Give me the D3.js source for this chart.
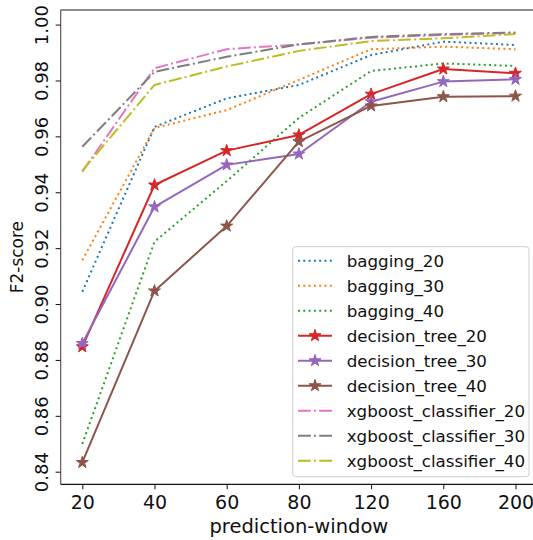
<!DOCTYPE html>
<html>
<head>
<meta charset="utf-8">
<script src="https://cdn.jsdelivr.net/npm/d3@7"></script>
<style>
  html, body { margin: 0; padding: 0; background: #fff; }
  svg { display: block; font-family: "DejaVu Sans", sans-serif; }
</style>
</head>
<body>
<svg id="chart" width="533" height="540"></svg>
<script>
const categories = ["20", "40", "60", "80", "120", "160", "200"];
const yTicks = [0.84, 0.86, 0.88, 0.90, 0.92, 0.94, 0.96, 0.98, 1.00];

const bagging_20 = [0.9044, 0.9634, 0.9736, 0.9784, 0.9891, 0.9939, 0.9927];
const bagging_30 = [0.9157, 0.9630, 0.9694, 0.9802, 0.9912, 0.9921, 0.9912];
const bagging_40 = [0.8499, 0.9223, 0.9440, 0.9666, 0.9834, 0.9861, 0.9852];
const decision_tree_20 = [0.8847, 0.9426, 0.9549, 0.9605, 0.9751, 0.9841, 0.9826];
const decision_tree_30 = [0.8859, 0.9348, 0.9498, 0.9537, 0.9724, 0.9796, 0.9804];
const decision_tree_40 = [0.8433, 0.9047, 0.9279, 0.9581, 0.9709, 0.9742, 0.9744];
const xgboost_classifier_20 = [0.9474, 0.9844, 0.9912, 0.9929, 0.9953, 0.9963, 0.9970];
const xgboost_classifier_30 = [0.9563, 0.9831, 0.9885, 0.9929, 0.9956, 0.9966, 0.9972];
const xgboost_classifier_40 = [0.9477, 0.9784, 0.9850, 0.9906, 0.9941, 0.9951, 0.9966];

const seriesNames = ["bagging_20", "bagging_30", "bagging_40",
  "decision_tree_20", "decision_tree_30", "decision_tree_40",
  "xgboost_classifier_20", "xgboost_classifier_30", "xgboost_classifier_40"];
const seriesValues = [bagging_20, bagging_30, bagging_40,
  decision_tree_20, decision_tree_30, decision_tree_40,
  xgboost_classifier_20, xgboost_classifier_30, xgboost_classifier_40];
const seriesColors = ["#1f77b4", "#ff7f0e", "#2ca02c", "#d62728", "#9467bd",
  "#8c564b", "#e377c2", "#7f7f7f", "#bcbd22"];
const seriesStyles = ["dot", "dot", "dot", "star", "star", "star", "dashdot", "dashdot", "dashdot"];

(function () {
const svg = d3.select("#chart");
const lw = 2;
const dashFor = s => s === "dot" ? `${lw},${1.65 * lw}` : s === "dashdot" ? `${6.4 * lw},${1.6 * lw},${1 * lw},${1.6 * lw}` : null;

// scales
const x = d3.scaleLinear().domain([0, categories.length - 1]).range([82.3, 515.5]);
const y = d3.scaleLinear().domain([0.84, 1.00]).range([471.7, 24.6]);
const pLeft = x(-0.3), pRight = x(categories.length - 1 + 0.3);
const pTop = 10, pBottom = 484.3;

svg.append("defs").append("clipPath").attr("id", "clip")
  .append("rect").attr("x", pLeft).attr("y", pTop).attr("width", pRight - pLeft).attr("height", pBottom - pTop);

function starPath(r) {
  const ri = r * 0.381966;
  const pts = [];
  for (let i = 0; i < 10; i++) {
    const a = -Math.PI / 2 + i * Math.PI / 5;
    const rr = i % 2 === 0 ? r : ri;
    pts.push([rr * Math.cos(a), rr * Math.sin(a)]);
  }
  return "M" + pts.map(p => p[0].toFixed(2) + "," + p[1].toFixed(2)).join("L") + "Z";
}

const line = d3.line().x((d, i) => x(i)).y(d => y(d));
const plot = svg.append("g").attr("clip-path", "url(#clip)");

seriesValues.forEach((vals, k) => {
  const g = plot.append("g");
  g.append("path").datum(vals)
    .attr("d", line)
    .attr("fill", "none")
    .attr("stroke", seriesColors[k])
    .attr("stroke-width", lw)
    .attr("stroke-dasharray", dashFor(seriesStyles[k]))
    .attr("stroke-linejoin", "round");
  if (seriesStyles[k] === "star") {
    g.selectAll("path.m").data(vals).enter().append("path")
      .attr("class", "m")
      .attr("d", starPath(6.3))
      .attr("transform", (d, i) => `translate(${x(i)},${y(d)})`)
      .attr("fill", seriesColors[k])
      .attr("stroke", seriesColors[k])
      .attr("stroke-width", 1);
  }
});

// spines
svg.append("line").attr("x1", pLeft).attr("x2", pRight).attr("y1", pTop).attr("y2", pTop)
  .attr("stroke", "#666").attr("stroke-width", 1.3);
svg.append("line").attr("x1", pLeft).attr("x2", pLeft).attr("y1", pTop).attr("y2", pBottom)
  .attr("stroke", "#666").attr("stroke-width", 1.3);
svg.append("line").attr("x1", pRight).attr("x2", pRight).attr("y1", pTop).attr("y2", pBottom)
  .attr("stroke", "#666").attr("stroke-width", 1.3);

// x axis
const xAxis = svg.append("g").attr("transform", `translate(0,${pBottom})`)
  .call(d3.axisBottom(x).tickValues(d3.range(categories.length))
    .tickFormat(i => categories[i]).tickSize(5).tickPadding(6).tickSizeOuter(0));
xAxis.select(".domain").attr("d", `M${pLeft},0H${pRight}`).attr("stroke", "#111").attr("stroke-width", 1.3);
xAxis.selectAll(".tick line").attr("stroke", "#111").attr("stroke-width", 1);
xAxis.selectAll(".tick text").attr("font-size", "19px").attr("fill", "#111")
  .attr("font-family", "DejaVu Sans");

// y axis
const yAxis = svg.append("g").attr("transform", `translate(${pLeft},0)`)
  .call(d3.axisLeft(y).tickValues(yTicks).tickFormat(d3.format(".2f")).tickSize(5).tickPadding(7).tickSizeOuter(0));
yAxis.select(".domain").remove();
yAxis.selectAll(".tick line").attr("stroke", "#111").attr("stroke-width", 1);
yAxis.selectAll(".tick text")
  .attr("font-size", "18px").attr("fill", "#111").attr("font-family", "DejaVu Sans")
  .attr("x", null).attr("dy", null)
  .attr("text-anchor", "middle")
  .attr("transform", "translate(-13,0) rotate(-90)");

// axis labels
svg.append("text").attr("x", (pLeft + pRight) / 2).attr("y", 533)
  .attr("text-anchor", "middle").attr("font-size", "19.5px").attr("fill", "#111")
  .text("prediction-window");
svg.append("text").attr("transform", `translate(23,${(pTop + pBottom) / 2 + 10}) rotate(-90)`)
  .attr("text-anchor", "middle").attr("font-size", "17px").attr("fill", "#111")
  .text("F2-score");

// legend
const lg = svg.append("g");
lg.append("rect").attr("x", 292.7).attr("y", 246.7).attr("width", 236.3).attr("height", 230)
  .attr("rx", 3).attr("fill", "#fff").attr("fill-opacity", 0.8)
  .attr("stroke", "#ccc").attr("stroke-width", 1);
seriesNames.forEach((name, k) => {
  const ry = 260.7 + k * 25;
  lg.append("line").attr("x1", 298).attr("x2", 332).attr("y1", ry).attr("y2", ry)
    .attr("stroke", seriesColors[k]).attr("stroke-width", lw)
    .attr("stroke-dasharray", dashFor(seriesStyles[k]));
  if (seriesStyles[k] === "star") {
    lg.append("path").attr("d", starPath(6.3)).attr("transform", `translate(315,${ry})`)
      .attr("fill", seriesColors[k]).attr("stroke", seriesColors[k]).attr("stroke-width", 1);
  }
  lg.append("text").attr("x", 346.7).attr("y", ry).attr("dy", "0.35em")
    .attr("font-size", "16.7px").attr("fill", "#111").text(name);
});
})();
</script>
</body>
</html>
